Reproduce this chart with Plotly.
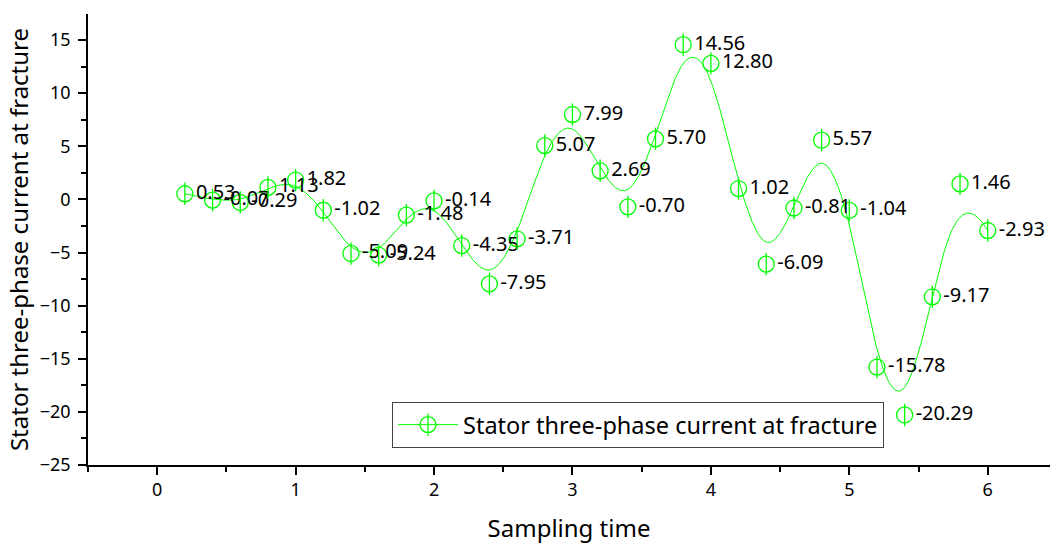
import numpy as np
import plotly.graph_objects as go

# ---- data ----
sample_time = [0.2, 0.4, 0.6, 0.8, 1.0, 1.2, 1.4, 1.6, 1.8, 2.0,
               2.2, 2.4, 2.6, 2.8, 3.0, 3.2, 3.4, 3.6, 3.8, 4.0,
               4.2, 4.4, 4.6, 4.8, 5.0, 5.2, 5.4, 5.6, 5.8, 6.0]
current = [0.53, -0.07, -0.29, 1.13, 1.82, -1.02, -5.09, -5.24, -1.48, -0.14,
           -4.35, -7.95, -3.71, 5.07, 7.99, 2.69, -0.70, 5.70, 14.56, 12.80,
           1.02, -6.09, -0.81, 5.57, -1.04, -15.78, -20.29, -9.17, 1.46, -2.93]
series_name = "Stator three-phase current at fracture"
x_title = "Sampling time"
y_title = "Stator three-phase current at fracture"

GREEN = "#00ff00"
FONT = "Noto Sans"


def bspline_curve(xs, ys, degree=3, samples=1200):
    """Clamped uniform B-spline using the data points as control points."""
    P = np.column_stack([xs, ys]).astype(float)
    n = len(P)
    k = degree
    inner = np.arange(1, n - k)
    knots = np.concatenate([np.zeros(k + 1), inner, np.full(k + 1, n - k)]).astype(float)
    ts = np.linspace(0, n - k, samples)
    ts[-1] -= 1e-9
    out = []
    for t in ts:
        N = np.zeros(len(knots) - 1)
        for i in range(len(knots) - 1):
            if knots[i] <= t < knots[i + 1]:
                N[i] = 1.0
        for d in range(1, k + 1):
            Nn = np.zeros(len(knots) - 1 - d)
            for i in range(len(Nn)):
                a = 0.0
                if knots[i + d] != knots[i]:
                    a = (t - knots[i]) / (knots[i + d] - knots[i]) * N[i]
                b = 0.0
                if knots[i + d + 1] != knots[i + 1]:
                    b = (knots[i + d + 1] - t) / (knots[i + d + 1] - knots[i + 1]) * N[i + 1]
                Nn[i] = a + b
            N = Nn
        out.append(N[:n] @ P)
    out = np.array(out)
    return out[:, 0], out[:, 1]


cx, cy = bspline_curve(sample_time, current)

mk = dict(size=16, color=GREEN, line=dict(width=1.3, color=GREEN))

fig = go.Figure()
fig.add_trace(go.Scatter(x=cx, y=cy, mode="lines", line=dict(color=GREEN, width=1),
                         showlegend=False, hoverinfo="skip"))
fig.add_trace(go.Scatter(x=sample_time, y=current, mode="markers+text",
                         marker=dict(symbol="circle-open", **mk),
                         text=[f"{v:.2f}" for v in current], textposition="middle right",
                         textfont=dict(family=FONT, size=20, color="#000000"),
                         showlegend=False))
fig.add_trace(go.Scatter(x=sample_time, y=current, mode="markers",
                         marker=dict(symbol="line-ns-open", **mk),
                         showlegend=False, hoverinfo="skip"))
# legend entries (circle + line, and overlaid vertical bar)
fig.add_trace(go.Scatter(x=[None], y=[None], mode="lines+markers", name=series_name,
                         line=dict(color=GREEN, width=1),
                         marker=dict(symbol="circle-open", **mk),
                         legend="legend"))
fig.add_trace(go.Scatter(x=[None], y=[None], mode="markers", name=series_name,
                         marker=dict(symbol="line-ns-open", **mk),
                         legend="legend2"))

leg_common = dict(x=0.316, y=0.14, xanchor="left", yanchor="top", itemwidth=60,
                  tracegroupgap=0)
fig.update_layout(
    width=1053, height=544,
    margin=dict(l=88, r=3, t=14, b=79),
    paper_bgcolor="white", plot_bgcolor="white",
    font=dict(family=FONT, color="#000000"),
    legend=dict(**leg_common, bgcolor="rgba(255,255,255,0)", bordercolor="#444444",
                borderwidth=1, font=dict(family=FONT, size=23.5, color="#000000")),
    legend2=dict(**leg_common, bgcolor="rgba(0,0,0,0)", borderwidth=1,
                 bordercolor="rgba(0,0,0,0)",
                 font=dict(family=FONT, size=23.5, color="rgba(0,0,0,0)")),
    xaxis=dict(range=[-0.5, 6.45], tickmode="linear", tick0=0, dtick=1,
               showline=True, linecolor="#000000", linewidth=1.5,
               ticks="outside", ticklen=8, tickwidth=1.5, tickcolor="#000000",
               minor=dict(ticks="outside", ticklen=5, tickwidth=1.5, tickcolor="#000000",
                          dtick=0.5, tick0=0),
               showgrid=False, zeroline=False, mirror=False,
               tickfont=dict(family=FONT, size=18),
               title=dict(text=x_title, font=dict(family=FONT, size=24), standoff=20)),
    yaxis=dict(range=[-25, 17.45], tickmode="linear", tick0=-25, dtick=5,
               showline=True, linecolor="#000000", linewidth=1.5,
               ticks="outside", ticklen=8, tickwidth=1.5, tickcolor="#000000",
               ticklabelstandoff=4,
               minor=dict(ticks="outside", ticklen=5, tickwidth=1.5, tickcolor="#000000",
                          dtick=2.5, tick0=0),
               showgrid=False, zeroline=False, mirror=False,
               tickfont=dict(family=FONT, size=18),
               title=dict(text=y_title, font=dict(family=FONT, size=24), standoff=4)),
)

fig.write_html("out.html")
